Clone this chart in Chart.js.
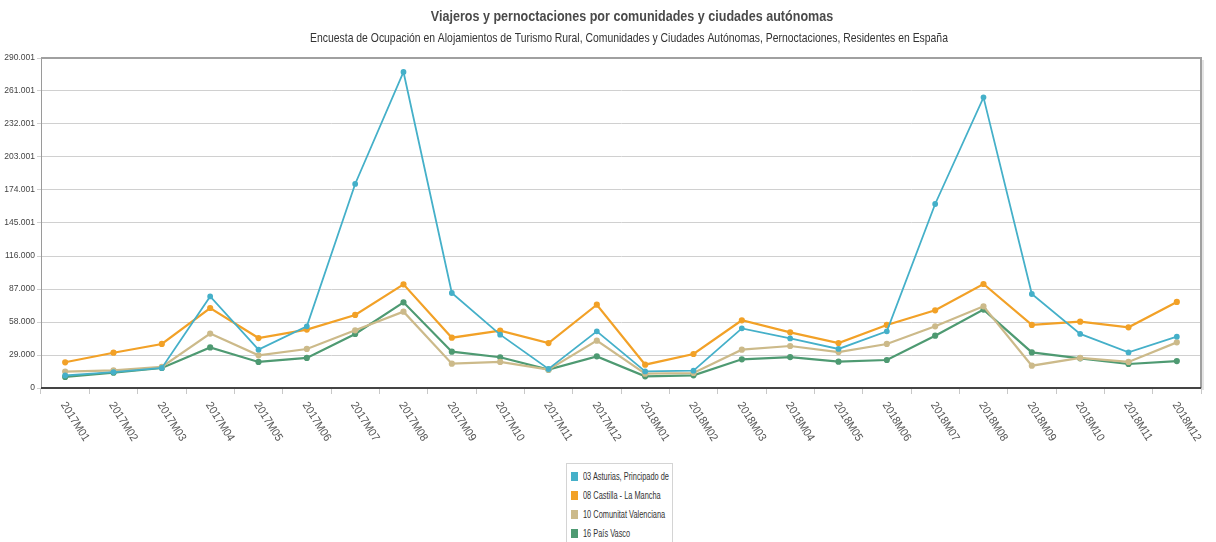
<!DOCTYPE html>
<html>
<head>
<meta charset="utf-8">
<script src="https://cdn.jsdelivr.net/npm/chart.js@4/dist/chart.umd.min.js"></script>
<style>
  html,body{margin:0;padding:0;background:#fff;}
  #wrap{position:relative;width:1216px;height:542px;overflow:hidden;}
  #box{position:absolute;left:0;top:0;width:1216px;height:460px;}
  #legend{position:absolute;left:566px;top:463px;width:107px;height:90px;border:1px solid #d4d4d4;padding-top:3px;box-sizing:border-box;
    font-family:'Liberation Sans',Arial,sans-serif;font-size:10px;color:#333;}
  #legend .it{height:19px;display:flex;align-items:center;padding-left:4px;white-space:nowrap;}
  #legend .sw{width:7px;height:9px;margin-right:5px;flex:none;}
  #legend .tx{display:inline-block;transform:scaleX(0.74);transform-origin:left center;}
</style>
</head>
<body>
<div id="wrap">
  <div id="box"><canvas id="chart"></canvas></div>
  <div id="legend"></div>
</div>
<script>
const FONT="'Liberation Sans',Arial,sans-serif";

const periods=['2017M01','2017M02','2017M03','2017M04','2017M05','2017M06','2017M07','2017M08','2017M09','2017M10','2017M11','2017M12',
  '2018M01','2018M02','2018M03','2018M04','2018M05','2018M06','2018M07','2018M08','2018M09','2018M10','2018M11','2018M12'];

const asturias=[11000,14000,17600,80500,33700,54200,179300,277700,83500,46900,16700,49800,14600,15200,52400,43600,34300,49800,161700,255400,82600,47500,31300,45100];
const castilla=[22600,31000,38700,70300,43900,51300,64200,91100,44200,50400,39500,73200,20500,29900,59500,48900,39500,55400,68300,91400,55400,58300,53300,75600];
const valenciana=[14400,15500,18500,47800,28700,34300,50700,67100,21400,22900,16100,41600,12600,13200,33700,36900,31600,38700,54200,71800,19600,26400,22900,40100];
const paisVasco=[9700,13500,17600,35700,22900,26400,47500,75300,31900,27000,16100,27800,10300,11100,25200,27200,23100,24600,46000,68900,31300,26100,21100,23700];

const seriesNames=['03 Asturias, Principado de','08 Castilla - La Mancha','10 Comunitat Valenciana','16 País Vasco'];
const seriesColors=['#45b0c9','#f2a127','#ccba8a','#4e9a72'];
const yTicks=[0,29000,58000,87000,116000,145001,174001,203001,232001,261001,290001];

const titleText='Viajeros y pernoctaciones por comunidades y ciudades autónomas';
const subtitleText='Encuesta de Ocupación en Alojamientos de Turismo Rural, Comunidades y Ciudades Autónomas, Pernoctaciones, Residentes en España';

const series=[asturias,castilla,valenciana,paisVasco];
const datasets=series.map((d,i)=>({
  label:seriesNames[i],data:d,borderColor:seriesColors[i],backgroundColor:seriesColors[i],
  borderWidth:i==0?1.8:2.2,pointRadius:2,pointHoverRadius:3,tension:0
}));

// narrow text: no condensed face installed, so squeeze horizontally
function narrowText(ctx,txt,x,y,sx){
  ctx.save();ctx.translate(x,y);ctx.scale(sx,1);ctx.fillText(txt,0,0);ctx.restore();
}

// headings, frame on top/right of the plot, rotated month labels
const framePlugin={
  id:'frame',
  afterDraw(chart){
    const {ctx,chartArea:a}=chart;
    const xs=chart.scales.x;
    ctx.save();
    ctx.textAlign='center';ctx.textBaseline='middle';
    ctx.fillStyle='#4a4a4a';ctx.font='bold 15.5px '+FONT;
    narrowText(ctx,titleText,632,17,0.81);
    ctx.fillStyle='#333';ctx.font='13px '+FONT;
    narrowText(ctx,subtitleText,629,38,0.8);

    ctx.strokeStyle='#e4e4e4';ctx.lineWidth=2;
    ctx.beginPath();ctx.moveTo(a.right+2,a.top+2);ctx.lineTo(a.right+2,a.bottom+2);ctx.stroke();
    ctx.strokeStyle='#a0a0a0';ctx.lineWidth=2;
    ctx.beginPath();ctx.moveTo(a.left,a.top);ctx.lineTo(a.right,a.top);ctx.lineTo(a.right,a.bottom);ctx.stroke();
    ctx.strokeStyle='#444';ctx.lineWidth=2;
    ctx.beginPath();ctx.moveTo(a.left,a.bottom);ctx.lineTo(a.right,a.bottom);ctx.stroke();

    ctx.fillStyle='#555';ctx.font='11.5px '+FONT;
    ctx.textAlign='left';
    periods.forEach((p,i)=>{
      const x=xs.getPixelForTick(i);
      ctx.save();ctx.translate(x-2,a.bottom+15);ctx.rotate(58*Math.PI/180);
      ctx.scale(0.92,1);ctx.fillText(p,0,0);ctx.restore();
    });
    ctx.restore();
  }
};

const chart=new Chart(document.getElementById('chart'),{
  type:'line',
  data:{labels:periods,datasets},
  options:{
    responsive:true,maintainAspectRatio:false,animation:false,
    layout:{padding:{left:0,right:15,top:58,bottom:0}},
    plugins:{legend:{display:false},tooltip:{enabled:false}},
    scales:{
      x:{offset:true,
        grid:{display:true,drawOnChartArea:false,offset:true,tickLength:6,color:'#c8c8c8'},
        border:{display:false},
        ticks:{display:false},
        afterFit(s){s.height=72;}},
      y:{min:0,max:290001,
        afterBuildTicks(s){s.ticks=yTicks.map(v=>({value:v}));},
        grid:{color:'#d0d0d0',lineWidth:1,tickLength:4},
        border:{color:'#9a9a9a',width:1},
        ticks:{color:'#444',font:{family:FONT,size:8.5},padding:2,
          callback:v=>v.toLocaleString('de-DE')},
        afterFit(s){s.width=41;}}
    }
  },
  plugins:[framePlugin]
});

document.getElementById('legend').innerHTML=seriesNames.map((n,i)=>
  `<div class="it"><span class="sw" style="background:${seriesColors[i]}"></span><span class="tx">${n}</span></div>`).join('');
</script>
</body>
</html>
